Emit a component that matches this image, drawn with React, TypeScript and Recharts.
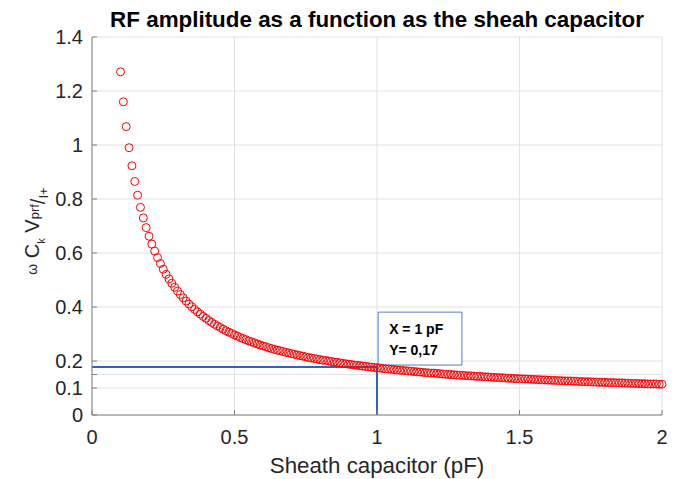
import {
  ScatterChart,
  Scatter,
  XAxis,
  YAxis,
  CartesianGrid,
  ReferenceLine,
  ReferenceArea,
} from "recharts";

// sheath capacitance (pF)
const capacitance = [
  0.1, 0.11, 0.12, 0.13, 0.14, 0.15, 0.16, 0.17, 0.18, 0.19,
  0.2, 0.21, 0.22, 0.23, 0.24, 0.25, 0.26, 0.27, 0.28, 0.29,
  0.3, 0.31, 0.32, 0.33, 0.34, 0.35, 0.36, 0.37, 0.38, 0.39,
  0.4, 0.41, 0.42, 0.43, 0.44, 0.45, 0.46, 0.47, 0.48, 0.49,
  0.5, 0.51, 0.52, 0.53, 0.54, 0.55, 0.56, 0.57, 0.58, 0.59,
  0.6, 0.61, 0.62, 0.63, 0.64, 0.65, 0.66, 0.67, 0.68, 0.69,
  0.7, 0.71, 0.72, 0.73, 0.74, 0.75, 0.76, 0.77, 0.78, 0.79,
  0.8, 0.81, 0.82, 0.83, 0.84, 0.85, 0.86, 0.87, 0.88, 0.89,
  0.9, 0.91, 0.92, 0.93, 0.94, 0.95, 0.96, 0.97, 0.98, 0.99,
  1.0, 1.01, 1.02, 1.03, 1.04, 1.05, 1.06, 1.07, 1.08, 1.09,
  1.1, 1.11, 1.12, 1.13, 1.14, 1.15, 1.16, 1.17, 1.18, 1.19,
  1.2, 1.21, 1.22, 1.23, 1.24, 1.25, 1.26, 1.27, 1.28, 1.29,
  1.3, 1.31, 1.32, 1.33, 1.34, 1.35, 1.36, 1.37, 1.38, 1.39,
  1.4, 1.41, 1.42, 1.43, 1.44, 1.45, 1.46, 1.47, 1.48, 1.49,
  1.5, 1.51, 1.52, 1.53, 1.54, 1.55, 1.56, 1.57, 1.58, 1.59,
  1.6, 1.61, 1.62, 1.63, 1.64, 1.65, 1.66, 1.67, 1.68, 1.69,
  1.7, 1.71, 1.72, 1.73, 1.74, 1.75, 1.76, 1.77, 1.78, 1.79,
  1.8, 1.81, 1.82, 1.83, 1.84, 1.85, 1.86, 1.87, 1.88, 1.89,
  1.9, 1.91, 1.92, 1.93, 1.94, 1.95, 1.96, 1.97, 1.98, 1.99,
  2.0,
];

// normalised RF amplitude
const amplitude = [
  1.271, 1.16, 1.068, 0.99, 0.923, 0.865, 0.814, 0.769, 0.73, 0.694,
  0.662, 0.633, 0.607, 0.583, 0.561, 0.54, 0.521, 0.504, 0.488, 0.473,
  0.459, 0.446, 0.434, 0.422, 0.411, 0.401, 0.391, 0.382, 0.374, 0.365,
  0.358, 0.35, 0.343, 0.336, 0.33, 0.324, 0.318, 0.312, 0.307, 0.302,
  0.297, 0.292, 0.287, 0.283, 0.279, 0.274, 0.271, 0.267, 0.263, 0.259,
  0.256, 0.253, 0.249, 0.246, 0.243, 0.24, 0.238, 0.235, 0.232, 0.23,
  0.227, 0.225, 0.222, 0.22, 0.218, 0.215, 0.213, 0.211, 0.209, 0.207,
  0.205, 0.203, 0.202, 0.2, 0.198, 0.196, 0.195, 0.193, 0.191, 0.19,
  0.188, 0.187, 0.185, 0.184, 0.183, 0.181, 0.18, 0.179, 0.177, 0.176,
  0.175, 0.174, 0.172, 0.171, 0.17, 0.169, 0.168, 0.167, 0.166, 0.165,
  0.164, 0.163, 0.162, 0.161, 0.16, 0.159, 0.158, 0.157, 0.156, 0.155,
  0.155, 0.154, 0.153, 0.152, 0.151, 0.15, 0.15, 0.149, 0.148, 0.147,
  0.147, 0.146, 0.145, 0.145, 0.144, 0.143, 0.143, 0.142, 0.141, 0.141,
  0.14, 0.139, 0.139, 0.138, 0.138, 0.137, 0.136, 0.136, 0.135, 0.135,
  0.134, 0.134, 0.133, 0.133, 0.132, 0.132, 0.131, 0.131, 0.13, 0.13,
  0.129, 0.129, 0.128, 0.128, 0.127, 0.127, 0.126, 0.126, 0.126, 0.125,
  0.125, 0.124, 0.124, 0.123, 0.123, 0.123, 0.122, 0.122, 0.121, 0.121,
  0.121, 0.12, 0.12, 0.12, 0.119, 0.119, 0.119, 0.118, 0.118, 0.117,
  0.117, 0.117, 0.116, 0.116, 0.116, 0.115, 0.115, 0.115, 0.115, 0.114,
  0.114,
];

const xTicks = [0, 0.5, 1, 1.5, 2];
const yTicks = [0, 0.1, 0.15, 0.2, 0.4, 0.6, 0.8, 1, 1.2, 1.4];

// highlighted point
const markX = 1;
const markY = 0.178;
const noteLines = ["X = 1 pF", "Y= 0,17"];

const points = capacitance.map((c, i) => ({ c, v: amplitude[i] }));

const FONT = "'Liberation Sans', Arial, sans-serif";
const AXIS = "#808080";
const TEXT = "#262626";

const fmtY = (v: number) => (v === 0.15 ? "" : String(v));

function Ring(p: any) {
  return <circle cx={p.cx} cy={p.cy} r={4} fill="none" stroke="#ff0000" strokeWidth={1} />;
}

// ω C_k V_prf /_I+ , rotated
function YLabel() {
  return (
    <text
      transform="translate(39,231) rotate(-90)"
      textAnchor="middle"
      fill={TEXT}
      fontFamily={FONT}
      fontSize={20}
    >
      <tspan fontSize={14} dy={-2}>ω</tspan>
      <tspan dy={2}> C</tspan>
      <tspan fontSize={11} dy={6}>k</tspan>
      <tspan dy={-6}> V</tspan>
      <tspan fontSize={13}>prf</tspan>
      <tspan dy={6}>/</tspan>
      <tspan fontSize={13} dy={3}>I+</tspan>
    </text>
  );
}

function Note(props: any) {
  const { x, y } = props.viewBox;
  return (
    <g fontFamily={FONT} fontWeight="bold" fontSize={14} fill="#000">
      {noteLines.map((t, i) => (
        <text key={t} x={x + 11} y={y + 22 + i * 21}>
          {t}
        </text>
      ))}
    </g>
  );
}

export default function App() {
  return (
    <div style={{ position: "absolute", left: 0, top: 0, background: "#fff" }}>
      <ScatterChart width={681} height={479} margin={{ top: 37, right: 19, left: 0, bottom: 0 }}>
        <text
          x={377}
          y={27}
          textAnchor="middle"
          fontFamily={FONT}
          fontWeight="bold"
          fontSize={22.4}
          fill="#000"
        >
          RF amplitude as a function as the sheah capacitor
        </text>
        <CartesianGrid stroke="#e2e2e2" />
        <XAxis
          dataKey="c"
          type="number"
          domain={[0, 2]}
          ticks={xTicks}
          interval={0}
          height={64}
          stroke={AXIS}
          tickSize={-5}
          tickMargin={20}
          tick={{ fill: TEXT, fontSize: 20, fontFamily: FONT }}
          label={{
            value: "Sheath capacitor (pF)",
            position: "insideBottom",
            offset: 6,
            fill: TEXT,
            fontSize: 22.3,
            fontFamily: FONT,
          }}
        />
        <XAxis
          xAxisId="top"
          orientation="top"
          type="number"
          domain={[0, 2]}
          ticks={xTicks}
          interval={0}
          height={0}
          stroke={AXIS}
          tickSize={-5}
          tick={false}
        />
        <YAxis
          dataKey="v"
          type="number"
          domain={[0, 1.4]}
          ticks={yTicks}
          interval={0}
          width={92}
          stroke={AXIS}
          tickSize={-5}
          tickMargin={14}
          tickFormatter={fmtY}
          tick={{ fill: TEXT, fontSize: 20, fontFamily: FONT }}
          label={{ content: () => <YLabel /> }}
        />
        <YAxis
          yAxisId="right"
          orientation="right"
          type="number"
          domain={[0, 1.4]}
          ticks={yTicks}
          interval={0}
          width={0}
          stroke={AXIS}
          tickSize={-5}
          tick={false}
        />
        <Scatter data={points} shape={Ring} isAnimationActive={false} />
        <ReferenceLine
          segment={[
            { x: 0, y: markY },
            { x: markX, y: markY },
          ]}
          stroke="#2f63c0"
          strokeWidth={2}
        />
        <ReferenceLine
          segment={[
            { x: markX, y: 0 },
            { x: markX, y: markY },
          ]}
          stroke="#2f63c0"
          strokeWidth={2}
        />
        <ReferenceArea
          x1={1.004}
          x2={1.298}
          y1={0.185}
          y2={0.381}
          fill="#fff"
          fillOpacity={1}
          stroke="#4f7fcf"
          strokeWidth={1}
          label={<Note />}
        />
      </ScatterChart>
    </div>
  );
}
